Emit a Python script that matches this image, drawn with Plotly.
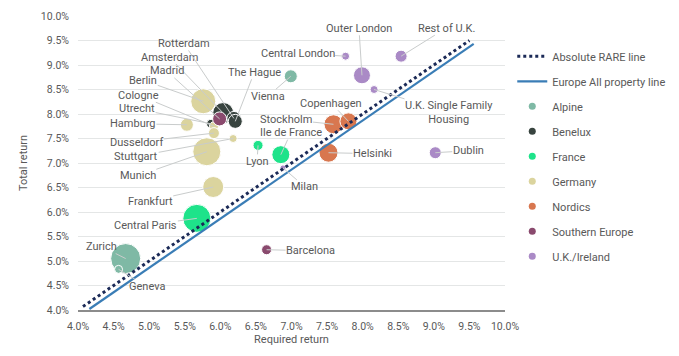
import plotly.graph_objects as go

# ---------------- data ----------------
cities = ["Zurich", "Geneva", "Vienna",
          "Amsterdam", "Rotterdam", "The Hague", "Utrecht",
          "Central Paris", "Ile de France", "Lyon",
          "Berlin", "Munich", "Frankfurt", "Hamburg", "Cologne", "Dusseldorf", "Stuttgart",
          "Stockholm", "Copenhagen", "Helsinki",
          "Madrid", "Barcelona", "Milan",
          "Central London", "Outer London", "Rest of U.K.", "U.K. Single Family<br>Housing", "Dublin"]
regions = ["Alpine", "Alpine", "Alpine",
           "Benelux", "Benelux", "Benelux", "Benelux",
           "France", "France", "France",
           "Germany", "Germany", "Germany", "Germany", "Germany", "Germany", "Germany",
           "Nordics", "Nordics", "Nordics",
           "Southern Europe", "Southern Europe", "Southern Europe",
           "U.K./Ireland", "U.K./Ireland", "U.K./Ireland", "U.K./Ireland", "U.K./Ireland"]
required_return = [4.67, 4.57, 6.99,
                   6.04, 6.19, 6.21, 5.87,
                   5.67, 6.85, 6.53,
                   5.76, 5.81, 5.90, 5.53, 5.91, 5.91, 6.18,
                   7.59, 7.80, 7.52,
                   5.99, 6.65, 6.88,
                   7.76, 7.99, 8.54, 8.16, 9.02]
total_return = [5.05, 4.83, 8.77,
                8.02, 7.91, 7.85, 7.80,
                5.87, 7.17, 7.36,
                8.26, 7.23, 6.51, 7.78, 7.75, 7.61, 7.50,
                7.79, 7.85, 7.21,
                7.90, 5.23, 6.90,
                9.18, 8.79, 9.18, 8.50, 7.21]
weight = [30, 8, 13,
          21, 14, 14, 9,
          28, 18, 10,
          25, 28, 21, 13, 9, 11, 8,
          19, 17, 19,
          14, 10, 6,
          8, 17, 12, 8, 12]

region_names = ["Alpine", "Benelux", "France", "Germany", "Nordics", "Southern Europe", "U.K./Ireland"]

rare_x = [4.07, 9.50]
rare_y = [4.07, 9.50]
europe_x = [4.16, 9.56]
europe_y = [4.02, 9.43]

x_ticks = [4.0, 4.5, 5.0, 5.5, 6.0, 6.5, 7.0, 7.5, 8.0, 8.5, 9.0, 9.5, 10.0]
y_ticks = [4.0, 4.5, 5.0, 5.5, 6.0, 6.5, 7.0, 7.5, 8.0, 8.5, 9.0, 9.5, 10.0]

# ---------------- styles ----------------
region_colors = {
    "Alpine": "#7fb9a5",
    "Benelux": "#38443f",
    "France": "#1ee38a",
    "Germany": "#dbd49e",
    "Nordics": "#d8774f",
    "Southern Europe": "#8a4a6e",
    "U.K./Ireland": "#aa8ac6",
}
point_color_override = {"Milan": "#aa8ac6"}

# label offsets (pixels, label centre relative to point)
label_offsets = {
    "Zurich": (-24, -12), "Geneva": (28, 17), "Vienna": (-23, 20),
    "Amsterdam": (-54, -56), "Rotterdam": (-50, -75), "The Hague": (19, -49), "Utrecht": (-74, -15),
    "Central Paris": (-51, 7), "Ile de France": (10, -22), "Lyon": (-1, 16),
    "Berlin": (-60, -21), "Munich": (-69, 24), "Frankfurt": (-63, 14), "Hamburg": (-54, -1),
    "Cologne": (-75, -31), "Dusseldorf": (-77, 9), "Stuttgart": (-97, 18),
    "Stockholm": (-47, -5), "Copenhagen": (-17, -18), "Helsinki": (44, 1),
    "Madrid": (-53, -48), "Barcelona": (44, 1), "Milan": (22, 19),
    "Central London": (-48, -3), "Outer London": (-3, -47), "Rest of U.K.": (45, -28),
    "U.K. Single Family<br>Housing": (75, 23), "Dublin": (33, -2),
}

FONT = "Roboto, sans-serif"
TXT = "#595959"

fig = go.Figure()

# bubbles
for reg in region_names:
    idx = [i for i, r in enumerate(regions) if r == reg]
    fig.add_trace(go.Scatter(
        x=[required_return[i] for i in idx],
        y=[total_return[i] for i in idx],
        mode="markers",
        marker=dict(size=[weight[i] for i in idx], sizemode="diameter",
                    color=[point_color_override.get(cities[i], region_colors[reg]) for i in idx],
                    line=dict(color="white", width=1), opacity=1),
        showlegend=False, hoverinfo="skip",
    ))

# lines (drawn on top)
fig.add_trace(go.Scatter(x=rare_x, y=rare_y, mode="lines", name="Absolute RARE line",
                         line=dict(color="#1b2a57", width=3, dash="3px,3px"),
                         legendrank=1, legendgroup="a"))
fig.add_trace(go.Scatter(x=europe_x, y=europe_y, mode="lines", name="Europe All property line",
                         line=dict(color="#3a7db6", width=2.2),
                         legendrank=2, legendgroup="b"))

# legend-only markers
for k, reg in enumerate(region_names):
    fig.add_trace(go.Scatter(x=[None], y=[None], mode="markers", name=reg,
                             marker=dict(size=7, color=region_colors[reg]),
                             legendrank=3 + k, legendgroup="g%d" % k))

# labels with leader lines
for i, c in enumerate(cities):
    ax, ay = label_offsets[c]
    fig.add_annotation(x=required_return[i], y=total_return[i], text=c,
                       showarrow=True, arrowhead=0, arrowwidth=1, arrowcolor="#c9cccc",
                       standoff=0, ax=ax, ay=ay, align="center", borderpad=0,
                       font=dict(family=FONT, size=11, color=TXT))

fig.update_layout(
    width=671, height=348,
    margin=dict(l=70, r=174, t=8, b=46, autoexpand=False),
    paper_bgcolor="white", plot_bgcolor="white",
    font=dict(family=FONT, size=10.5, color=TXT),
    legend=dict(x=1.017, y=0.912, xanchor="left", yanchor="top",
                font=dict(family=FONT, size=11, color=TXT),
                tracegroupgap=6, itemwidth=30, bgcolor="rgba(0,0,0,0)"),
    xaxis=dict(range=[4, 10], tickvals=x_ticks,
               ticktext=["%.1f%%" % v for v in x_ticks],
               showgrid=False, zeroline=False, showline=True,
               linecolor="#8c8c8c", linewidth=1.5, ticks="",
               ticklabelstandoff=6, automargin=True,
               title=dict(text="Required return", standoff=1,
                          font=dict(family=FONT, size=11, color=TXT)),
               fixedrange=True),
    yaxis=dict(range=[4, 10], tickvals=y_ticks,
               ticktext=["%.1f%%" % v for v in y_ticks],
               showgrid=True, gridcolor="#e4e6e6", gridwidth=1,
               zeroline=False, showline=False, ticks="",
               ticklabelstandoff=8, automargin=True,
               title=dict(text="Total return", standoff=10,
                          font=dict(family=FONT, size=11, color=TXT)),
               fixedrange=True),
)

fig.write_html("out.html")
